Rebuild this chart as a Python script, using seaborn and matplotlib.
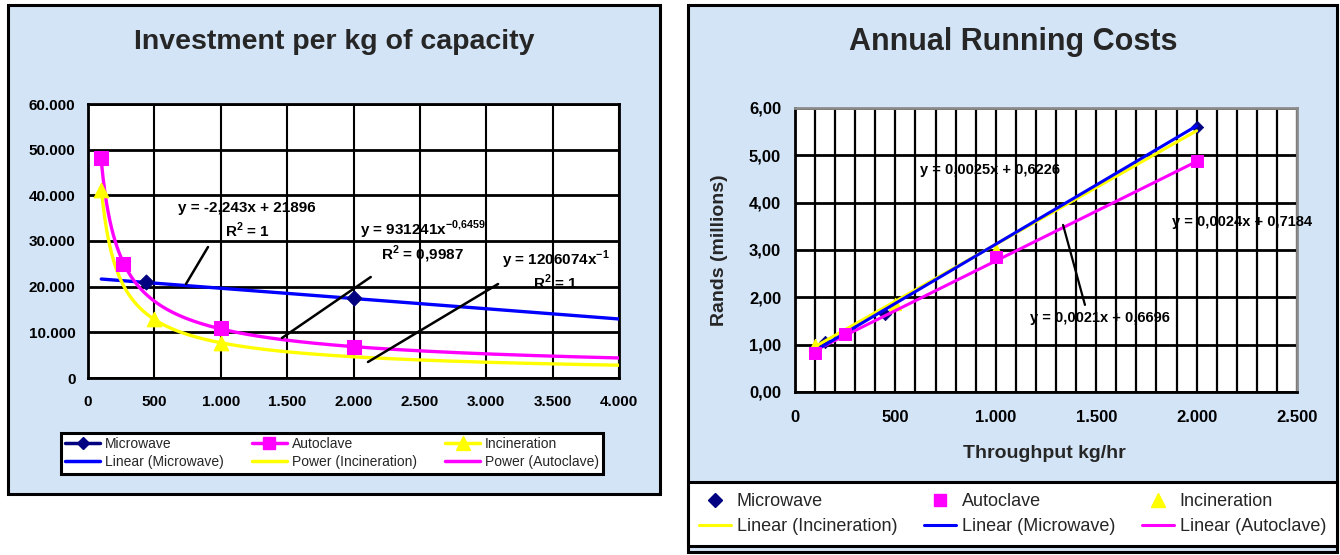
import numpy as np
import pandas as pd
import matplotlib
matplotlib.use("Agg")
import matplotlib.pyplot as plt
from matplotlib.patches import Rectangle
from matplotlib.lines import Line2D
from matplotlib.ticker import MultipleLocator, FuncFormatter
import seaborn as sns

# ---------------- Investment per kg of capacity ----------------
mw_cap = [440, 2000]
mw_invest = [21000, 17500]
ac_cap = [100, 260, 1000, 2000]
ac_invest = [48200, 25000, 11000, 6800]
inc_cap = [100, 500, 1000]
inc_invest = [41200, 12900, 7700]

# trendline coefficients (Excel trendlines)
mw_lin = (-2.243, 21896)          # slope, intercept
ac_pow = (931241, -0.6459)        # coefficient, exponent
inc_pow = (1206074, -0.7313)      # coefficient, exponent
mw_r2, ac_r2, inc_r2 = 1, 0.9987, 1
trend_span_left = (100, 4000)

# ---------------- Annual Running Costs ----------------
rc_mw_x = [150, 450, 2000]
rc_mw_y = [1.05, 1.65, 5.60]
rc_ac_x = [100, 250, 1000, 2000]
rc_ac_y = [0.82, 1.22, 2.85, 4.88]
rc_inc_x = [100, 500, 1000]
rc_inc_y = [1.00, 1.85, 3.00]

rc_mw_lin = (0.0025, 0.6226)
rc_inc_lin = (0.0024, 0.7184)
rc_ac_lin = (0.0021, 0.6696)
trend_span_right = (100, 2000)

NAVY, MAGENTA, YELLOW, BLUE = "#000080", "#ff00ff", "#ffff00", "#0000ff"
BG = "#d3e4f7"

sns.set_theme(style="white")
plt.rcParams["font.family"] = ["Liberation Sans", "DejaVu Sans"]
plt.rcParams["mathtext.fontset"] = "custom"
plt.rcParams["mathtext.rm"] = "Liberation Sans"
plt.rcParams["mathtext.bf"] = "Liberation Sans:bold"

W, H = 1340, 555
fig = plt.figure(figsize=(W / 100, H / 100), dpi=100)
fig.patch.set_facecolor("white")


def fx(px):
    return px / W


def fy(py):
    return 1 - py / H


def panel(x0, y0, x1, y1):
    fig.add_artist(Rectangle((fx(x0), fy(y1)), fx(x1 - x0), (y1 - y0) / H,
                             transform=fig.transFigure, facecolor=BG,
                             edgecolor="black", lw=2.2, zorder=0))


panel(8, 5, 660, 494)
panel(688, 5, 1337, 552)


def dot_thousands(v, _pos=None):
    return f"{int(round(v)):,}".replace(",", ".")


def comma_dec(v, _pos=None):
    return f"{v:.2f}".replace(".", ",")


def num_comma(v, nd):
    return f"{v:.{nd}f}".replace(".", ",")


# ======================= left chart =======================
axL = fig.add_axes([fx(88), fy(378), fx(619 - 88), (378 - 104) / H])
axL.set_facecolor("white")
axL.set_xlim(0, 4000)
axL.set_ylim(0, 60000)
axL.xaxis.set_major_locator(MultipleLocator(500))
axL.yaxis.set_major_locator(MultipleLocator(10000))
axL.xaxis.set_major_formatter(FuncFormatter(dot_thousands))
axL.yaxis.set_major_formatter(FuncFormatter(dot_thousands))
axL.grid(True, which="major", axis="y", color="black", lw=2)
axL.grid(True, which="major", axis="x", color="black", lw=1.5)
axL.set_axisbelow(True)
for s in axL.spines.values():
    s.set_color("black")
    s.set_linewidth(2)
axL.tick_params(axis="both", which="major", direction="out", length=4, width=2,
                color="black", labelsize=11, labelcolor="black")
axL.tick_params(axis="x", pad=8)
axL.tick_params(axis="y", pad=5)
for lab in axL.get_xticklabels() + axL.get_yticklabels():
    lab.set_fontweight("bold")

tx = np.linspace(trend_span_left[0], trend_span_left[1], 600)
trend_left = pd.DataFrame({
    "x": np.concatenate([tx, tx, tx]),
    "y": np.concatenate([mw_lin[0] * tx + mw_lin[1],
                         inc_pow[0] * tx ** inc_pow[1],
                         ac_pow[0] * tx ** ac_pow[1]]),
    "fit": ["Linear (Microwave)"] * len(tx) + ["Power (Incineration)"] * len(tx)
           + ["Power (Autoclave)"] * len(tx),
})
sns.lineplot(data=trend_left, x="x", y="y", hue="fit",
             palette={"Linear (Microwave)": BLUE, "Power (Incineration)": YELLOW,
                      "Power (Autoclave)": MAGENTA},
             estimator=None, sort=False, lw=2.4, legend=False, ax=axL, zorder=3)

sns.scatterplot(x=mw_cap, y=mw_invest, marker="D", s=60, color=NAVY,
                edgecolor=NAVY, ax=axL, zorder=5, legend=False)
sns.scatterplot(x=ac_cap, y=ac_invest, marker="s", s=95, color=MAGENTA,
                edgecolor=MAGENTA, ax=axL, zorder=5, legend=False)
sns.scatterplot(x=inc_cap, y=inc_invest, marker="^", s=110, color=YELLOW,
                edgecolor=YELLOW, ax=axL, zorder=4, legend=False)
axL.set_xlabel("")
axL.set_ylabel("")

lab_kw = dict(fontsize=11, fontweight="bold", ha="center", va="center",
              color="black", zorder=6)
axL.text(1198, 37226,
         f"y = {num_comma(mw_lin[0], 3)}x + {mw_lin[1]}", **lab_kw)
axL.text(1198, 32409, f"R$^{{\\mathbf{{2}}}}$ = {mw_r2}", **lab_kw)
axL.text(2524, 32409,
         f"y = {ac_pow[0]}x$^{{\\mathbf{{{num_comma(ac_pow[1], 4).replace(',', '{,}')}}}}}$",
         **lab_kw)
axL.text(2516, 27153, f"R$^{{\\mathbf{{2}}}}$ = {num_comma(ac_r2, 4)}", **lab_kw)
axL.text(3525, 25839,
         f"y = {inc_pow[0]}x$^{{\\mathbf{{{inc_pow[1]:.0f}}}}}$", **lab_kw)
axL.text(3525, 21022, f"R$^{{\\mathbf{{2}}}}$ = {inc_r2}", **lab_kw)

# leader lines from the equations to their curves
leaderL = [((904, 28686), (738, 20584)),
           ((2130, 22117), (1461, 8759)),
           ((3089, 20584), (2109, 3504))]
for (x0, y0), (x1, y1) in leaderL:
    axL.plot([x0, x1], [y0, y1], color="black", lw=1.8, zorder=6)

handlesL = [
    Line2D([], [], color=NAVY, lw=2.5, marker="D", markersize=6),
    Line2D([], [], color=BLUE, lw=2.5),
    Line2D([], [], color=MAGENTA, lw=2.5, marker="s", markersize=9),
    Line2D([], [], color=YELLOW, lw=2.5),
    Line2D([], [], color=YELLOW, lw=2.5, marker="^", markersize=10),
    Line2D([], [], color=MAGENTA, lw=2.5),
]
labelsL = ["Microwave", "Linear (Microwave)", "Autoclave", "Power (Incineration)",
           "Incineration", "Power (Autoclave)"]
legL = fig.legend(handlesL, labelsL, loc="upper left",
                  bbox_to_anchor=(fx(61), fy(480), fx(603 - 61), (480 - 433) / H),
                  bbox_transform=fig.transFigure, mode="expand", ncol=3,
                  fontsize=10, frameon=True, fancybox=False, framealpha=1,
                  facecolor="white", edgecolor="black", borderpad=0.3,
                  labelspacing=0.3, handlelength=2.5, handletextpad=0.35,
                  borderaxespad=0)
legL.get_frame().set_linewidth(2.2)

fig.text(fx(334), fy(42), "Investment per kg of capacity", ha="center",
         va="center", fontsize=20.5, fontweight="bold")

# ======================= right chart =======================
axR = fig.add_axes([fx(795), fy(392), fx(1297 - 795), (392 - 108) / H])
axR.set_facecolor("white")
axR.set_xlim(0, 2500)
axR.set_ylim(0, 6)
axR.xaxis.set_major_locator(MultipleLocator(500))
axR.xaxis.set_minor_locator(MultipleLocator(100))
axR.yaxis.set_major_locator(MultipleLocator(1))
axR.xaxis.set_major_formatter(FuncFormatter(dot_thousands))
axR.yaxis.set_major_formatter(FuncFormatter(comma_dec))
axR.grid(True, which="both", axis="x", color="black", lw=1.6)
axR.grid(True, which="major", axis="y", color="black", lw=2)
axR.set_axisbelow(True)
for side in ("left", "bottom"):
    axR.spines[side].set_color("black")
    axR.spines[side].set_linewidth(2)
for side in ("top", "right"):
    axR.spines[side].set_color("#8c8c8c")
    axR.spines[side].set_linewidth(2)
axR.tick_params(axis="both", which="major", direction="out", length=5, width=2,
                color="black", labelsize=12, labelcolor="black")
axR.tick_params(axis="x", which="minor", length=0)
axR.tick_params(axis="x", pad=8)
axR.tick_params(axis="y", pad=5)
for lab in axR.get_xticklabels() + axR.get_yticklabels():
    lab.set_fontweight("bold")

rx = np.array(trend_span_right, dtype=float)
trend_right = pd.DataFrame({
    "x": np.concatenate([rx, rx, rx]),
    "y": np.concatenate([rc_ac_lin[0] * rx + rc_ac_lin[1],
                         rc_inc_lin[0] * rx + rc_inc_lin[1],
                         rc_mw_lin[0] * rx + rc_mw_lin[1]]),
    "fit": ["Linear (Autoclave)"] * 2 + ["Linear (Incineration)"] * 2
           + ["Linear (Microwave)"] * 2,
})
sns.lineplot(data=trend_right, x="x", y="y", hue="fit",
             palette={"Linear (Autoclave)": MAGENTA,
                      "Linear (Incineration)": YELLOW,
                      "Linear (Microwave)": BLUE},
             estimator=None, sort=False, lw=2.2, legend=False, ax=axR, zorder=4)

sns.scatterplot(x=rc_inc_x, y=rc_inc_y, marker="^", s=80, color=YELLOW,
                edgecolor=YELLOW, ax=axR, zorder=3, legend=False)
sns.scatterplot(x=rc_mw_x, y=rc_mw_y, marker="D", s=40, color=NAVY,
                edgecolor=NAVY, ax=axR, zorder=3, legend=False)
sns.scatterplot(x=rc_ac_x, y=rc_ac_y, marker="s", s=75, color=MAGENTA,
                edgecolor=MAGENTA, ax=axR, zorder=5, legend=False)
axR.set_xlabel("")
axR.set_ylabel("")

eq_kw = dict(fontsize=10.5, fontweight="bold", ha="center", va="center",
             color="black", zorder=6, clip_on=False)


def lin_label(c):
    return f"y = {num_comma(c[0], 4)}x + {num_comma(c[1], 4)}"


axR.text(971, 4.69, lin_label(rc_mw_lin), **eq_kw)
axR.text(2226, 3.59, lin_label(rc_inc_lin), **eq_kw)
axR.text(1519, 1.56, lin_label(rc_ac_lin), **eq_kw)
axR.plot([1335, 1444], [3.53, 1.84], color="black", lw=1.6, zorder=6)

handlesR = [
    Line2D([], [], ls="none", marker="D", color=NAVY, markersize=7),
    Line2D([], [], color=YELLOW, lw=2.2),
    Line2D([], [], ls="none", marker="s", color=MAGENTA, markersize=9),
    Line2D([], [], color=BLUE, lw=2.2),
    Line2D([], [], ls="none", marker="^", color=YELLOW, markersize=10),
    Line2D([], [], color=MAGENTA, lw=2.2),
]
labelsR = ["Microwave", "Linear (Incineration)", "Autoclave", "Linear (Microwave)",
           "Incineration", "Linear (Autoclave)"]
legR = fig.legend(handlesR, labelsR, loc="upper left",
                  bbox_to_anchor=(fx(688), fy(551), fx(1337 - 688), (551 - 482) / H),
                  bbox_transform=fig.transFigure, mode="expand", ncol=3,
                  fontsize=13, frameon=True, fancybox=False, framealpha=1,
                  facecolor="white", edgecolor="black", borderpad=0.6,
                  labelspacing=0.45, handlelength=1.8, handletextpad=0.3,
                  borderaxespad=0)
legR.get_frame().set_linewidth(2.2)

fig.text(fx(1013), fy(42), "Annual Running Costs", ha="center", va="center",
         fontsize=22, fontweight="bold")
fig.text(fx(720), fy(250), "Rands (millions)", ha="center", va="center",
         rotation=90, fontsize=14, fontweight="bold")
fig.text(fx(1044), fy(454), "Throughput kg/hr", ha="center", va="center",
         fontsize=14, fontweight="bold")

fig.savefig("out.png", dpi=100, facecolor="white")
